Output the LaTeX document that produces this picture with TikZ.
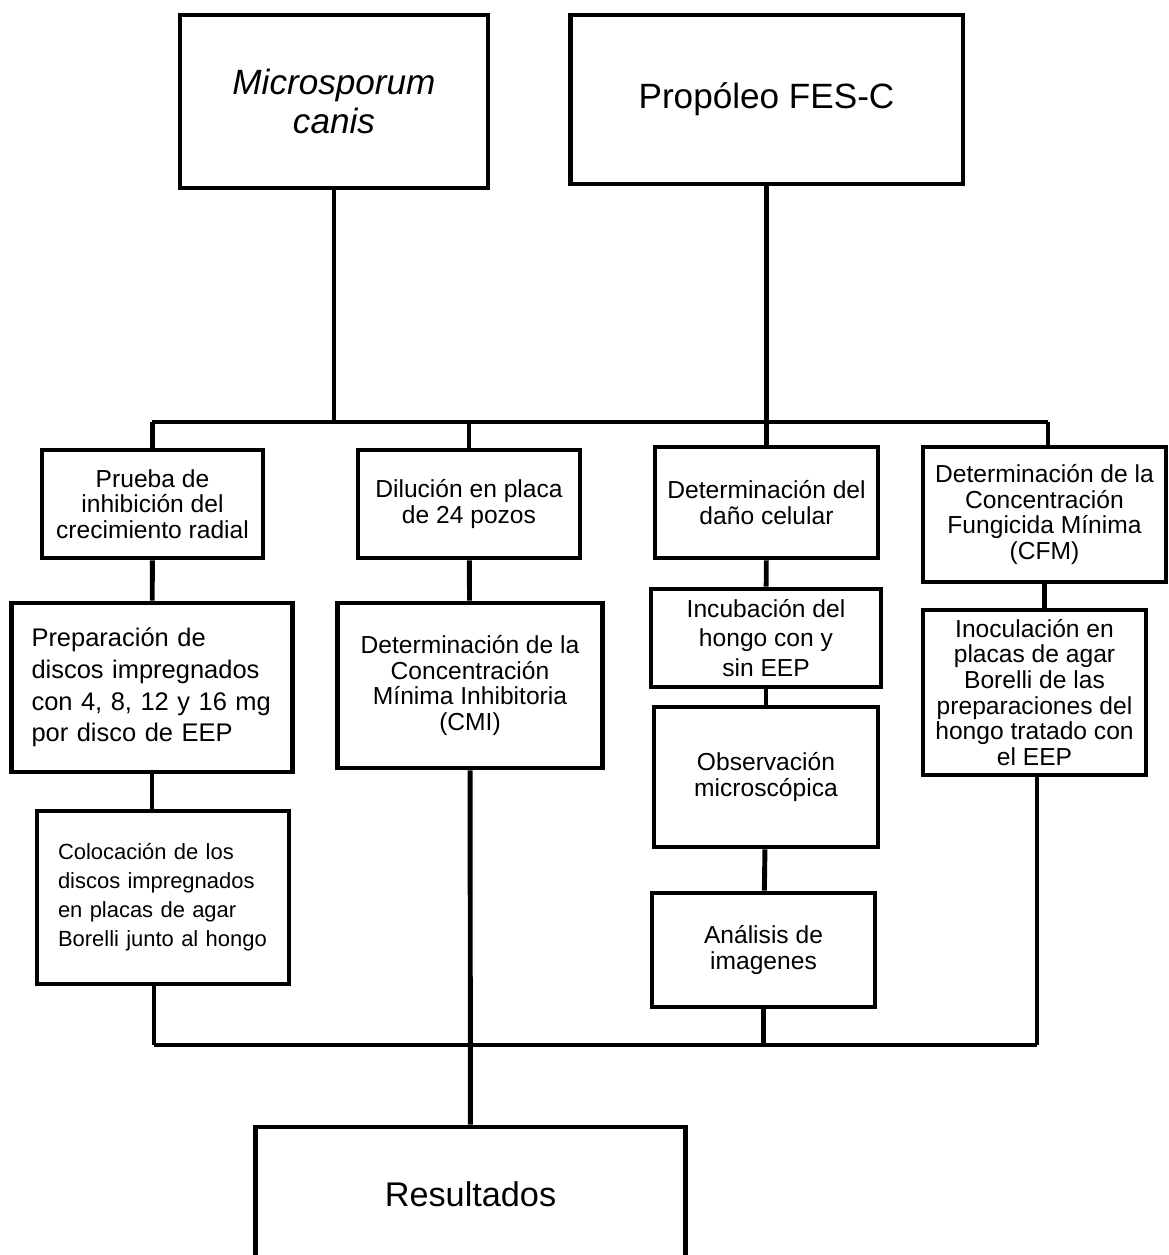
\documentclass[tikz,border=0pt]{standalone}
\usepackage{fontspec}
\setmainfont{Liberation Sans}
\tikzset{
  caja/.style={draw, line width=2.8pt, align=center, inner sep=0pt},
  grande/.style={caja, font=\fontsize{20}{22}\selectfont},
  chica/.style={caja, font=\fontsize{14}{14.6}\selectfont},
  linea/.style={line width=2.8pt},
}
\begin{document}
\begin{tikzpicture}[x=0.02cm, y=-0.02cm]
\useasboundingbox (0,0) rectangle (1169,1255);

\node[grande, font=\fontsize{20}{22}\selectfont\itshape, minimum width=6.16cm, minimum height=3.46cm] (canis) at (334,101.5) {Microsporum\\canis};
\node[grande, minimum width=7.86cm, minimum height=3.38cm] (prop) at (766.5,99.5) {Propóleo FES-C};

\node[chica, minimum width=4.42cm, minimum height=2.16cm] (prueba) at (152.5,504) {Prueba de\\inhibición del\\crecimiento radial};
\node[chica, minimum width=4.44cm, minimum height=2.16cm] (dil) at (469,504) {Dilución en placa\\de 24 pozos};
\node[chica, minimum width=4.46cm, minimum height=2.22cm] (dano) at (766.5,502.5) {Determinación del\\daño celular};
\node[chica, minimum width=4.86cm, minimum height=2.7cm] (cfm) at (1044.5,514.5) {Determinación de la\\Concentración\\Fungicida Mínima\\(CFM)};

\node[chica, font=\fontsize{14.5}{18}\selectfont, align=left, text width=4.82cm, minimum width=5.62cm, minimum height=3.38cm] (prep) at (152,687.5) {Preparación de\\discos impregnados\\con 4, 8, 12 y 16 mg\\por disco de EEP};
\node[chica, minimum width=5.3cm, minimum height=3.3cm] (cmi) at (470,685.5) {Determinación de la\\Concentración\\Mínima Inhibitoria\\(CMI)};
\node[chica, font=\fontsize{14}{17}\selectfont, minimum width=4.6cm, minimum height=1.96cm] (incub) at (766,638) {Incubación del\\hongo con y\\sin EEP};
\node[chica, minimum width=4.48cm, minimum height=2.8cm] (obs) at (766,777) {Observación\\microscópica};
\node[chica, minimum width=4.46cm, minimum height=2.28cm] (anal) at (763.5,950) {Análisis de\\imagenes};
\node[chica, minimum width=4.46cm, minimum height=3.3cm] (inoc) at (1034.5,692.5) {Inoculación en\\placas de agar\\Borelli de las\\preparaciones del\\hongo tratado con\\el EEP};
\node[chica, font=\fontsize{12.5}{16.5}\selectfont, align=left, text width=4.2cm, minimum width=5.04cm, minimum height=3.46cm] (col) at (163,897.5) {Colocación de los\\discos impregnados\\en placas de agar\\Borelli junto al hongo};

\node[grande, font=\fontsize{19.5}{22}\selectfont, minimum width=8.6cm, minimum height=2.7cm] (res) at (470.5,1194.5) {Resultados};

% lineas de arriba
\coordinate (ti) at (152,422);
\coordinate (td) at (1048,422);
\draw[linea] (ti) -- (td);
\draw[linea] (canis) -- (canis |- ti);
\draw[linea] (prop) -- (prop |- ti);
\draw[linea] (prueba |- ti) -- (prueba);
\draw[linea] (dil |- ti) -- (dil);
\draw[linea] (dano |- ti) -- (dano);
\draw[linea] (td) -- (td |- cfm.north);

% columnas
\draw[linea] (prueba) -- (prep);
\draw[linea] (prep) -- (prep |- col.north);
\draw[linea] (dil) -- (cmi);
\draw[linea] (dano) -- (incub);
\draw[linea] (incub) -- (obs);
\draw[linea] (obs) -- (anal);
\draw[linea] (cfm) -- (cfm |- inoc.north);

% lineas de abajo
\coordinate (bi) at (154,1045);
\coordinate (bd) at (1037,1045);
\draw[linea] (bi) -- (bd);
\draw[linea] (bi |- col.south) -- (bi);
\draw[linea] (cmi) -- (res);
\draw[linea] (anal) -- (anal |- bi);
\draw[linea] (bd |- inoc.south) -- (bd);
\end{tikzpicture}
\end{document}
